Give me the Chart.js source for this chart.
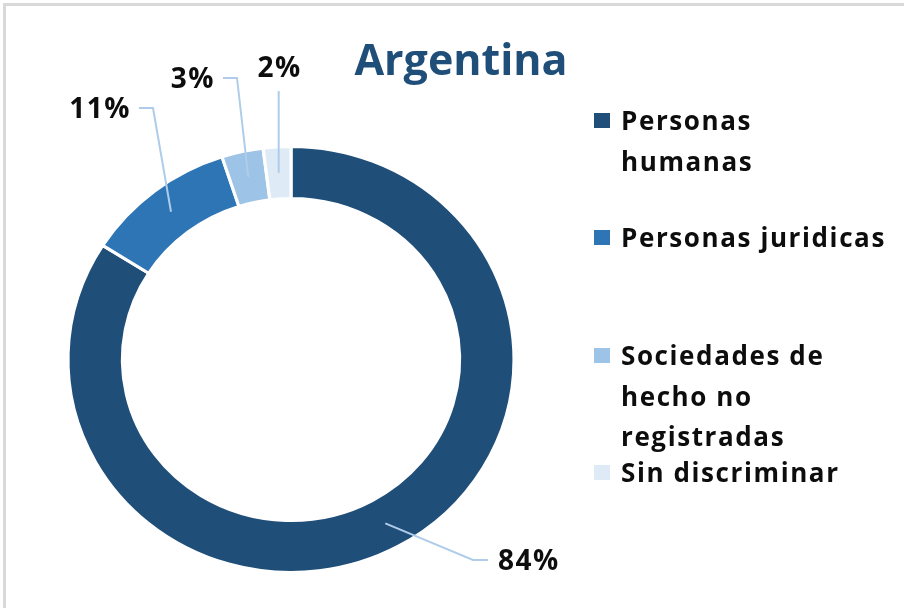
<!DOCTYPE html>
<html>
<head>
<meta charset="utf-8">
<script src="https://cdn.jsdelivr.net/npm/chart.js@4.4.1/dist/chart.umd.min.js"></script>
<style>
  html, body { margin: 0; padding: 0; background: #fff; }
  #wrap { position: relative; width: 904px; height: 608px; overflow: hidden; }
  #frame {
    position: absolute; left: 3px; top: 3px; width: 920px; height: 620px;
    border-top: 3px solid #d9d9d9; border-left: 3px solid #d9d9d9;
  }
  #chart { position: absolute; left: 0; top: 0; }
</style>
</head>
<body>
<div id="wrap">
  <div id="frame"></div>
  <canvas id="chart" width="904" height="608"></canvas>
</div>
<script>
const title = "Argentina";
const categories = ["Personas humanas", "Personas juridicas", "Sociedades de hecho no registradas", "Sin discriminar"];
const legendLines = [["Personas", "humanas"], ["Personas juridicas"], ["Sociedades de", "hecho no", "registradas"], ["Sin discriminar"]];
const shares = [84, 11, 3, 2];
const colors = ["#1F4E79", "#2E75B6", "#9DC3E6", "#DEEBF7"];

const FONT = "'Open Sans', 'DejaVu Sans', sans-serif";
const stretchX = 1.047; // the reference ring is a bit wider than tall

// where each data label sits, relative to the ring centre
const labelLayout = [
  { elbow: [182, 200.5], tail: 15 },
  { elbow: [-138, -251.5], tail: -14 },
  { elbow: [-54, -281.5], tail: -14 },
  { elbow: [0, -268.5], tail: 0, vertical: true },
];

// legend first-line baselines
const legendTops = [130, 247, 365, 482];

function ringCenter(chart) {
  const arc = chart.getDatasetMeta(0).data[0];
  return { x: arc.x, y: arc.y };
}

const stretchPlugin = {
  id: "stretch",
  beforeDatasetsDraw(chart) {
    const c = ringCenter(chart);
    const ctx = chart.ctx;
    ctx.save();
    ctx.translate(c.x, 0);
    ctx.scale(stretchX, 1);
    ctx.translate(-c.x, 0);
  },
  afterDatasetsDraw(chart) {
    chart.ctx.restore();
  },
};

const labelPlugin = {
  id: "labels",
  afterDatasetsDraw(chart) {
    const ctx = chart.ctx;
    const meta = chart.getDatasetMeta(0);
    const total = shares.reduce((a, b) => a + b, 0);
    ctx.save();
    meta.data.forEach((arc, i) => {
      const p = arc.getProps(["x", "y", "startAngle", "endAngle", "innerRadius", "outerRadius"], true);
      const mid = (p.startAngle + p.endAngle) / 2;
      const r = (p.innerRadius + p.outerRadius) / 2;
      const px = p.x + Math.cos(mid) * r * stretchX;
      const py = p.y + Math.sin(mid) * r;
      const lay = labelLayout[i];
      const ex = lay.vertical ? px : p.x + lay.elbow[0];
      const ey = p.y + lay.elbow[1];
      const endX = ex + lay.tail;

      ctx.strokeStyle = "#AFCDEA";
      ctx.lineWidth = 2;
      ctx.beginPath();
      ctx.moveTo(px, py);
      ctx.lineTo(ex, ey);
      if (lay.tail !== 0) ctx.lineTo(endX, ey);
      ctx.stroke();

      const text = Math.round((shares[i] / total) * 100) + "%";
      ctx.fillStyle = "#0d0d0d";
      ctx.font = "bold 28px " + FONT;
      ctx.letterSpacing = "1.5px";
      if (lay.tail < 0) {
        ctx.textAlign = "right";
        ctx.textBaseline = "middle";
        ctx.fillText(text, endX - 8, ey + 2);
      } else if (lay.tail > 0) {
        ctx.textAlign = "left";
        ctx.textBaseline = "middle";
        ctx.fillText(text, endX + 10, ey + 2);
      } else {
        ctx.textAlign = "center";
        ctx.textBaseline = "alphabetic";
        ctx.fillText(text, ex + 1, ey - 14);
      }
    });
    ctx.restore();
  },
};

const legendPlugin = {
  id: "sideLegend",
  afterDraw(chart) {
    const ctx = chart.ctx;
    ctx.save();
    ctx.font = "bold 43px " + FONT;
    ctx.fillStyle = "#1F4E79";
    ctx.textAlign = "center";
    ctx.textBaseline = "alphabetic";
    ctx.fillText(title, 461, 75);

    ctx.font = "bold 26px " + FONT;
    ctx.letterSpacing = "1.6px";
    ctx.textAlign = "left";
    legendLines.forEach((lines, i) => {
      const base = legendTops[i];
      ctx.fillStyle = colors[i];
      ctx.fillRect(594, base - 17, 16, 15);
      ctx.fillStyle = "#0d0d0d";
      lines.forEach((line, j) => {
        ctx.fillText(line, 621, base + j * 40.5);
      });
    });
    ctx.restore();
  },
};

new Chart(document.getElementById("chart"), {
  type: "doughnut",
  data: {
    labels: categories,
    datasets: [{
      data: shares,
      backgroundColor: colors,
      borderColor: "#ffffff",
      borderWidth: 3,
    }],
  },
  options: {
    responsive: false,
    animation: false,
    radius: 213,
    cutout: "75.6%",
    layout: { padding: { top: 148, bottom: 37, left: 70, right: 392 } },
    plugins: {
      legend: { display: false },
      tooltip: { enabled: false },
      title: { display: false },
    },
  },
  plugins: [stretchPlugin, labelPlugin, legendPlugin],
});
</script>
</body>
</html>
